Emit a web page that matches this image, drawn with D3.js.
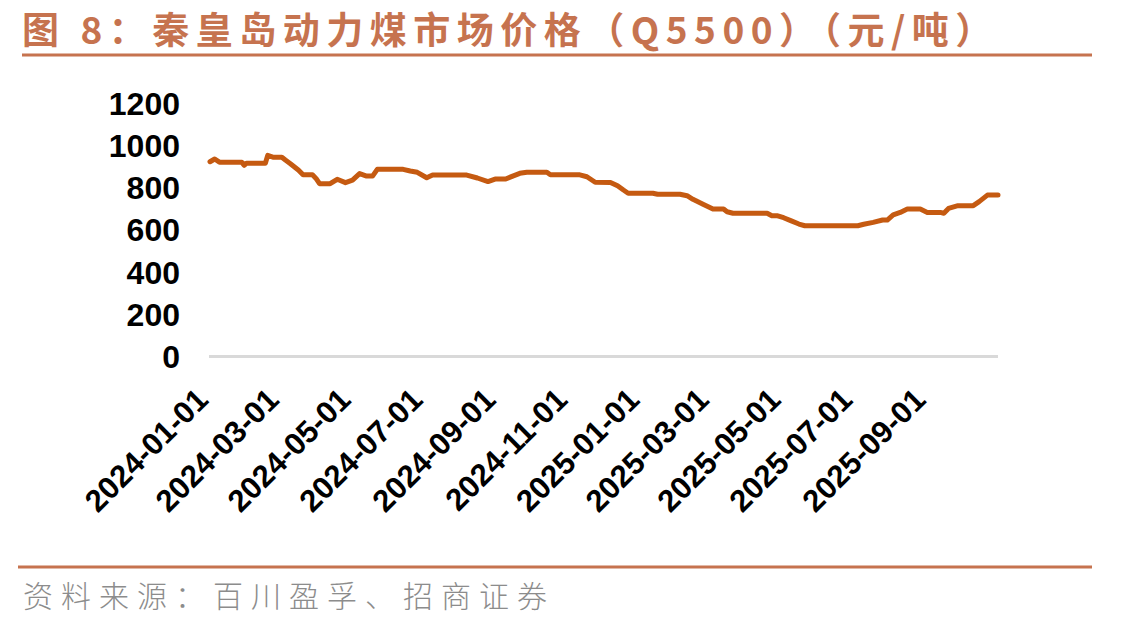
<!DOCTYPE html>
<html>
<head>
<meta charset="utf-8">
<script src="https://cdn.jsdelivr.net/npm/d3@7"></script>
<style>
  html, body { margin: 0; padding: 0; background: #fff; }
  #chart { width: 1148px; height: 629px; }
</style>
</head>
<body>
<div id="chart"></div>
<script>
// --- DATA (weekly-ish steps) ---
const dates = [
  "2024-01-01","2024-01-05","2024-01-09","2024-01-28","2024-01-30","2024-02-01","2024-02-17","2024-02-19",
  "2024-02-24","2024-03-02","2024-03-05","2024-03-09","2024-03-16","2024-03-20","2024-03-28","2024-03-31",
  "2024-04-03","2024-04-12","2024-04-18","2024-04-25","2024-05-01","2024-05-07","2024-05-13","2024-05-18",
  "2024-05-22","2024-06-13","2024-06-19","2024-06-25","2024-07-03","2024-07-08","2024-08-06","2024-08-15",
  "2024-08-24","2024-08-30","2024-09-08","2024-09-14","2024-09-20","2024-09-26","2024-10-13","2024-10-16",
  "2024-11-10","2024-11-16","2024-11-23","2024-12-06","2024-12-12","2024-12-17","2024-12-21","2025-01-11",
  "2025-01-15","2025-02-03","2025-02-09","2025-02-14","2025-02-23","2025-03-03","2025-03-12","2025-03-15",
  "2025-03-20","2025-04-18","2025-04-22","2025-04-27","2025-05-02","2025-05-08","2025-05-15","2025-05-20",
  "2025-07-04","2025-07-09","2025-07-17","2025-07-25","2025-07-29","2025-08-03","2025-08-09","2025-08-15",
  "2025-08-26","2025-09-01","2025-09-12","2025-09-15","2025-09-19","2025-09-27","2025-10-10","2025-10-15",
  "2025-10-22","2025-10-31"
];
const prices = [
  922, 935, 920, 920, 905, 915, 915, 952,
  943, 943, 930, 914, 883, 860, 860, 843,
  818, 818, 839, 823, 835, 866, 854, 854,
  886, 886, 878, 872, 846, 859, 859, 845,
  828, 840, 840, 854, 867, 872, 872, 860,
  860, 851, 825, 824, 808, 788, 773, 773,
  768, 768, 761, 744, 720, 698, 698, 685,
  678, 678, 666, 666, 657, 643, 627, 619,
  619, 626, 635, 646, 646, 670, 682, 698,
  698, 682, 682, 678, 701, 714, 714, 733,
  764, 764
];
const xTickLabels = ["2024-01-01","2024-03-01","2024-05-01","2024-07-01","2024-09-01","2024-11-01",
  "2025-01-01","2025-03-01","2025-05-01","2025-07-01","2025-09-01"];
const yTicks = [0, 200, 400, 600, 800, 1000, 1200];

const titleText = "图 8：秦皇岛动力煤市场价格（Q5500）（元/吨）";
const sourceText = "资料来源：百川盈孚、招商证券";

(function () {
  'use strict';

  const W = 1148, H = 629;
  const accent = "#c6734f";
  const parse = d3.timeParse("%Y-%m-%d");
  const series = dates.map((d, i) => ({ date: parse(d), value: prices[i] }));

  const svg = d3.select("#chart").append("svg")
    .attr("width", W).attr("height", H);

  // Title + rules
  svg.append("text")
    .attr("x", 22).attr("y", 44)
    .attr("fill", accent)
    .style("font-family", "'Noto Sans CJK SC', 'Liberation Sans', sans-serif")
    .style("font-weight", "bold")
    .style("font-size", "37px")
    .style("letter-spacing", "6.5px")
    .text(titleText);

  svg.append("line").attr("x1", 22).attr("x2", 1092).attr("y1", 55).attr("y2", 55)
    .attr("stroke", accent).attr("stroke-width", 3);
  svg.append("line").attr("x1", 18).attr("x2", 1092).attr("y1", 567).attr("y2", 567)
    .attr("stroke", accent).attr("stroke-width", 3);

  svg.append("text")
    .attr("x", 23).attr("y", 607)
    .attr("fill", "#8c8c8c")
    .attr("textLength", 524).attr("lengthAdjust", "spacing")
    .style("font-family", "'Noto Sans CJK SC', sans-serif")
    .style("font-weight", 300)
    .style("font-size", "30px")
    .text(sourceText);

  // Scales
  const x = d3.scaleTime()
    .domain([parse("2024-01-01"), parse("2025-10-31")])
    .range([210, 998]);
  const y = d3.scaleLinear().domain([0, 1200]).range([356.5, 103]);

  // Y axis labels
  svg.append("g").selectAll("text").data(yTicks).enter().append("text")
    .attr("x", 180).attr("y", d => y(d)).attr("dy", "0.36em")
    .attr("text-anchor", "end")
    .style("font-family", "'Liberation Sans', Arial, sans-serif")
    .style("font-weight", "bold").style("font-size", "32px")
    .attr("fill", "#000")
    .text(d => d);

  // X axis baseline
  svg.append("line")
    .attr("x1", x.range()[0] - 1).attr("x2", x.range()[1])
    .attr("y1", y(0)).attr("y2", y(0))
    .attr("stroke", "#d9d9d9").attr("stroke-width", 3);

  // X axis labels, rotated
  svg.append("g").selectAll("text").data(xTickLabels).enter().append("text")
    .attr("transform", d => `translate(${x(parse(d))},${y(0) + 45}) rotate(-45)`)
    .attr("text-anchor", "end")
    .style("font-family", "'Liberation Sans', Arial, sans-serif")
    .style("font-weight", "bold").style("font-size", "31px")
    .attr("fill", "#000")
    .text(d => d);

  // Line
  const line = d3.line()
    .x(d => x(d.date))
    .y(d => y(d.value));

  svg.append("path")
    .datum(series)
    .attr("d", line)
    .attr("fill", "none")
    .attr("stroke", "#c55a11")
    .attr("stroke-width", 5)
    .attr("stroke-linejoin", "round")
    .attr("stroke-linecap", "round");
})();
</script>
</body>
</html>
